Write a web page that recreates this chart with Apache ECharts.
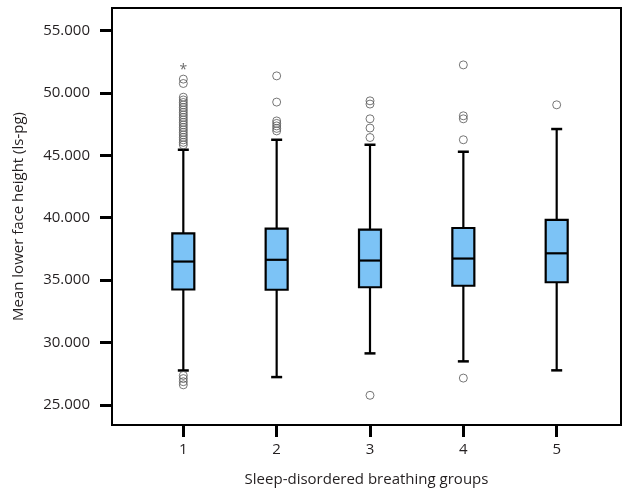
<!DOCTYPE html>
<html><head><meta charset="utf-8">
<script src="https://cdn.jsdelivr.net/npm/echarts@6/dist/echarts.min.js"></script>
<style>html,body{margin:0;padding:0;background:#fff}#c{width:625px;height:492px}</style>
</head><body><div id="c"></div>
<script>
const groups = [1, 2, 3, 4, 5];
const whiskerLow = [27.75, 27.22, 29.12, 28.48, 27.76];
const q1 = [34.24, 34.22, 34.42, 34.54, 34.82];
const median = [36.48, 36.62, 36.56, 36.72, 37.14];
const q3 = [38.74, 39.12, 39.04, 39.17, 39.82];
const whiskerHigh = [45.44, 46.24, 45.84, 45.28, 47.10];
const outliers1 = [45.83, 46.03, 46.23, 46.43, 46.63, 46.83, 47.03, 47.23, 47.43, 47.63, 47.83, 48.03, 48.23, 48.43, 48.63, 48.83, 49.03, 49.23, 49.43, 49.65, 50.75, 51.1, 27.35, 27.1, 26.85, 26.6];
const outliers2 = [46.95, 47.15, 47.35, 47.55, 47.75, 49.26, 51.36];
const outliers3 = [46.42, 47.18, 47.92, 49.1, 49.36, 25.76];
const outliers4 = [46.24, 47.92, 48.16, 52.24, 27.14];
const outliers5 = [49.04];
const extremes1 = [52.0];
const yTicks = [25, 30, 35, 40, 45, 50, 55];
const xTicks = [1, 2, 3, 4, 5];

const boxData = groups.map((g, i) => [g, whiskerLow[i], q1[i], median[i], q3[i], whiskerHigh[i]]);
const outlierData = [];
[outliers1, outliers2, outliers3, outliers4, outliers5].forEach((arr, i) => {
  arr.forEach(v => outlierData.push([groups[i], v]));
});
const extremeData = extremes1.map(v => [groups[0], v]);

const chart = echarts.init(document.getElementById('c'));
const FONT = 'Open Sans';
chart.setOption({
  animation: false,
  grid: { left: 112, right: 4, top: 8, bottom: 66.5, show: true, borderColor: '#000', borderWidth: 2, containLabel: false },
  xAxis: {
    type: 'value', min: 0.236, max: 5.689,
    name: 'Sleep-disordered breathing groups', nameLocation: 'middle', nameGap: 47,
    nameTextStyle: { fontFamily: FONT, fontSize: 15, color: '#231f20' },
    axisLine: { show: true, lineStyle: { color: '#000', width: 2 } },
    axisTick: { show: true, length: 12, lineStyle: { color: '#000', width: 3 }, customValues: xTicks },
    axisLabel: { fontFamily: FONT, fontSize: 15, color: '#231f20', margin: 17, customValues: xTicks, formatter: v => String(v) },
    splitLine: { show: false }
  },
  yAxis: {
    type: 'value', min: 23.38, max: 56.8,
    name: 'Mean lower face height (ls-pg)', nameLocation: 'middle', nameGap: 86,
    nameTextStyle: { fontFamily: FONT, fontSize: 15, color: '#231f20' },
    axisLine: { show: true, lineStyle: { color: '#000', width: 2 } },
    axisTick: { show: true, length: 12, lineStyle: { color: '#000', width: 3 }, customValues: yTicks },
    axisLabel: { fontFamily: FONT, fontSize: 15, color: '#231f20', margin: 22, customValues: yTicks, formatter: v => v.toFixed(3) },
    splitLine: { show: false }
  },
  series: [
    {
      type: 'custom',
      data: boxData,
      encode: { x: 0, y: [1, 2, 3, 4, 5] },
      renderItem: function (params, api) {
        const x = api.value(0);
        const lo = api.coord([x, api.value(1)]);
        const b = api.coord([x, api.value(2)]);
        const m = api.coord([x, api.value(3)]);
        const t = api.coord([x, api.value(4)]);
        const hi = api.coord([x, api.value(5)]);
        const cx = lo[0];
        const hw = 11, cw = 5.5;
        const ls = { stroke: '#000', lineWidth: 2.2 };
        return {
          type: 'group',
          children: [
            { type: 'line', shape: { x1: cx, y1: lo[1], x2: cx, y2: b[1] }, style: ls },
            { type: 'line', shape: { x1: cx, y1: t[1], x2: cx, y2: hi[1] }, style: ls },
            { type: 'line', shape: { x1: cx - cw, y1: lo[1], x2: cx + cw, y2: lo[1] }, style: { stroke: '#000', lineWidth: 2.5 } },
            { type: 'line', shape: { x1: cx - cw, y1: hi[1], x2: cx + cw, y2: hi[1] }, style: { stroke: '#000', lineWidth: 2.5 } },
            { type: 'rect', shape: { x: cx - hw, y: t[1], width: 2 * hw, height: b[1] - t[1] }, style: { fill: '#7cc3f6', stroke: '#000', lineWidth: 2.2 } },
            { type: 'line', shape: { x1: cx - hw, y1: m[1], x2: cx + hw, y2: m[1] }, style: ls }
          ]
        };
      },
      z: 2
    },
    {
      type: 'scatter',
      data: outlierData,
      symbol: 'circle',
      symbolSize: 8,
      itemStyle: { color: 'rgba(0,0,0,0)', borderColor: '#555', borderWidth: 1 },
      z: 3
    },
    {
      type: 'scatter',
      data: extremeData,
      symbolSize: 1,
      itemStyle: { color: 'rgba(0,0,0,0)' },
      label: { show: true, position: 'inside', offset: [0, 2], formatter: '*', fontFamily: FONT, fontSize: 14, color: '#444' },
      z: 3
    }
  ]
});
</script>
</body></html>
